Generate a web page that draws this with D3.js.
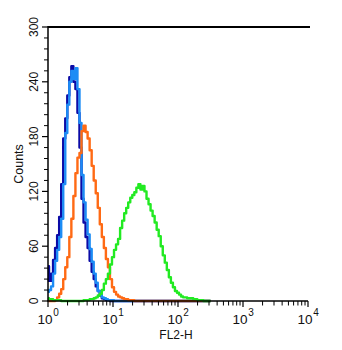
<!DOCTYPE html>
<html>
<head>
<meta charset="utf-8">
<script src="https://cdn.jsdelivr.net/npm/d3@7"></script>
<style>
  html, body { margin: 0; padding: 0; background: #fff; }
  svg { display: block; font-family: "Liberation Sans", Arial, sans-serif; }
</style>
</head>
<body>
<svg id="chart" width="342" height="350"></svg>
<script>
// Histogram bins: 32 channels per decade, starting at 10^0
const binsPerDecade = 32;
const binCount = 81;

// Event counts per channel for each sample
const isotypeDark = [38, 22, 30, 45, 58, 72, 92, 128, 178, 200, 225, 245, 257, 240, 232, 206, 168, 112, 86, 70,
  58, 44, 32, 24, 16, 11, 6, 3, 2, 1, 1, 0, 0, 0, 0, 0, 0, 0, 0, 0,
  0, 0, 0, 0, 0, 0, 0, 0, 0, 0, 0, 0, 0, 0, 0, 0, 0, 0, 0, 0,
  0, 0, 0, 0, 0, 0, 0, 0, 0, 0, 0, 0, 0, 0, 0, 0, 0, 0, 0, 0, 0];
const isotypeLight = [10, 12, 16, 30, 44, 56, 70, 90, 128, 184, 215, 240, 252, 243, 255, 232, 195, 138, 108, 89,
  73, 57, 43, 30, 20, 11, 7, 4, 3, 2, 1, 1, 1, 0, 0, 0, 0, 0, 0, 0,
  0, 0, 0, 0, 0, 0, 0, 0, 0, 0, 0, 0, 0, 0, 0, 0, 0, 0, 0, 0,
  0, 0, 0, 0, 0, 0, 0, 0, 0, 0, 0, 0, 0, 0, 0, 0, 0, 0, 0, 0, 0];
const controlOrange = [0, 0, 0, 0, 1, 4, 8, 13, 24, 37, 48, 70, 90, 115, 140, 157, 162, 186, 192, 185,
  178, 165, 148, 132, 118, 102, 84, 70, 58, 46, 37, 24, 15, 10, 7, 5, 4, 3, 2, 2,
  1, 1, 1, 0, 0, 0, 0, 0, 0, 0, 0, 0, 0, 0, 0, 0, 0, 0, 0, 0,
  0, 0, 0, 0, 0, 0, 0, 0, 0, 0, 0, 0, 0, 0, 0, 0, 0, 0, 0, 0, 0];
const stainedGreen = [3, 2, 2, 1, 1, 1, 1, 0, 0, 0, 0, 0, 0, 0, 0, 0, 0, 0, 1, 1,
  1, 2, 2, 3, 4, 6, 8, 12, 19, 24, 30, 40, 48, 56, 62, 68, 80, 88, 96, 102,
  108, 113, 116, 119, 124, 128, 122, 126, 120, 112, 106, 99, 93, 86, 78, 71, 60, 50, 42, 34,
  26, 20, 15, 11, 9, 7, 5, 4, 4, 3, 3, 3, 2, 2, 1, 1, 1, 0, 0, 0, 0];

const seriesList = [
  { name: "isotype dark", color: "#0b0ba6", values: isotypeDark },
  { name: "isotype light", color: "#1c8cf5", values: isotypeLight },
  { name: "control", color: "#ff6a14", values: controlOrange },
  { name: "stained", color: "#22ea22", values: stainedGreen }
];

const yTicks = [0, 60, 120, 180, 240, 300];
const xDecades = [1, 10, 100, 1000, 10000];
const xExponents = ["0", "1", "2", "3", "4"];

const svg = d3.select("#chart");
const x = d3.scaleLog().domain([1, 10000]).range([48, 308]);
const y = d3.scaleLinear().domain([0, 300]).range([301, 27]);

const binValue = i => Math.pow(10, i / binsPerDecade);

// Histogram traces
const line = d3.line()
  .x((d, i) => x(binValue(i)))
  .y(d => y(d))
  .curve(d3.curveStep);

svg.append("g").selectAll("path")
  .data(seriesList)
  .join("path")
  .attr("fill", "none")
  .attr("stroke", d => d.color)
  .attr("stroke-width", 2.4)
  .attr("stroke-linejoin", "round")
  .attr("d", d => line(d.values.slice(0, binCount)));

// Frame: left axis, bottom axis and top rule
svg.append("line").attr("x1", 48).attr("x2", 310).attr("y1", y(300)).attr("y2", y(300))
  .attr("stroke", "#000").attr("stroke-width", 2);
svg.append("line").attr("x1", 48).attr("x2", 48).attr("y1", y(300) - 1).attr("y2", y(0))
  .attr("stroke", "#000").attr("stroke-width", 1.5);
svg.append("line").attr("x1", 47.25).attr("x2", x(10000)).attr("y1", y(0)).attr("y2", y(0))
  .attr("stroke", "#000").attr("stroke-width", 1.5);

// Y ticks: major every 60, minor every 12
const yAxis = svg.append("g");
yAxis.selectAll("line.minor")
  .data(d3.range(0, 301, 12).filter(v => v % 60 !== 0))
  .join("line")
  .attr("x1", 44).attr("x2", 48)
  .attr("y1", d => y(d)).attr("y2", d => y(d))
  .attr("stroke", "#000").attr("stroke-width", 1);
yAxis.selectAll("line.major")
  .data(yTicks)
  .join("line")
  .attr("x1", 42).attr("x2", 48)
  .attr("y1", d => y(d)).attr("y2", d => y(d))
  .attr("stroke", "#000").attr("stroke-width", 1.2);
yAxis.selectAll("text")
  .data(yTicks)
  .join("text")
  .attr("transform", d => `translate(37.5,${y(d)}) rotate(-90)`)
  .attr("text-anchor", "middle")
  .attr("font-size", 12)
  .attr("fill", "#111")
  .text(d => d);

svg.append("text")
  .attr("transform", `translate(23,${y(150)}) rotate(-90)`)
  .attr("text-anchor", "middle")
  .attr("font-size", 12.5)
  .attr("fill", "#111")
  .text("Counts");

// X ticks: decades with log minors
const xAxis = svg.append("g");
const minors = [];
xDecades.slice(0, -1).forEach(d => { for (let k = 2; k <= 9; k++) minors.push(d * k); });
xAxis.selectAll("line.minor")
  .data(minors)
  .join("line")
  .attr("x1", d => x(d)).attr("x2", d => x(d))
  .attr("y1", y(0)).attr("y2", y(0) + 4.5)
  .attr("stroke", "#000").attr("stroke-width", 1);
xAxis.selectAll("line.major")
  .data(xDecades)
  .join("line")
  .attr("x1", d => x(d)).attr("x2", d => x(d))
  .attr("y1", y(0)).attr("y2", y(0) + 6)
  .attr("stroke", "#000").attr("stroke-width", 1.2);

const xLabels = xAxis.selectAll("g.lbl")
  .data(xDecades)
  .join("g")
  .attr("transform", d => `translate(${x(d)},0)`);
xLabels.append("text")
  .attr("x", -3)
  .attr("y", 324)
  .attr("text-anchor", "middle")
  .attr("font-size", 13.5)
  .attr("fill", "#111")
  .text("10");
xLabels.append("text")
  .attr("x", 8)
  .attr("y", 316)
  .attr("text-anchor", "middle")
  .attr("font-size", 10)
  .attr("fill", "#111")
  .text((d, i) => xExponents[i]);

svg.append("text")
  .attr("x", 176)
  .attr("y", 339)
  .attr("text-anchor", "middle")
  .attr("font-size", 12)
  .attr("fill", "#111")
  .text("FL2-H");
</script>
</body>
</html>
